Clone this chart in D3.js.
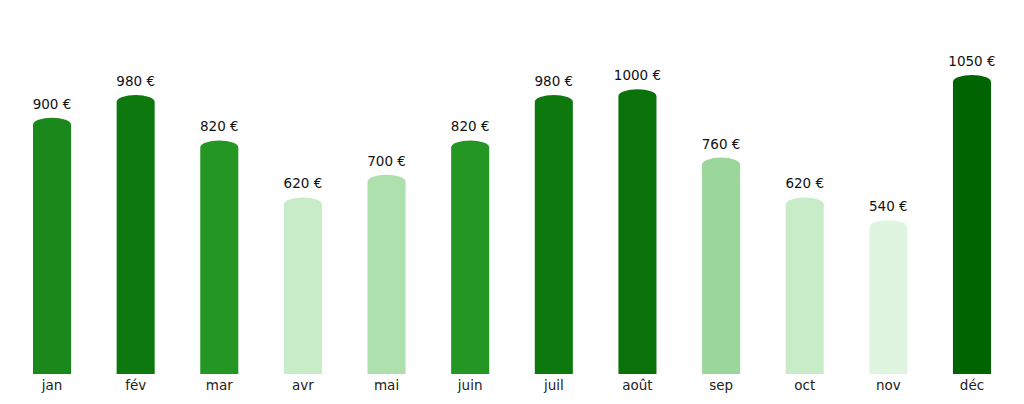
<!DOCTYPE html>
<html><head><meta charset="utf-8">
<script src="https://cdn.jsdelivr.net/npm/d3@7"></script>
<style>body{margin:0;background:#fff}svg{display:block}text{font-family:"DejaVu Sans",sans-serif}</style>
</head><body><svg id="c" width="1024" height="404"></svg>
<script>
const months = ["jan","fév","mar","avr","mai","juin","juil","août","sep","oct","nov","déc"];
const values = [900,980,820,620,700,820,980,1000,760,620,540,1050];
const colorStops = [540,620,700,760,820,900,980,1000,1050];
const colorRange = ["#dff5df","#c8ecc8","#aee0ae","#9bd69b","#239623","#1a881a","#0d780d","#097309","#006400"];

const svg = d3.select("#c");
const base = 374;
const x = d3.scaleBand().domain(months).range([10,1014]).paddingInner(0.545).paddingOuter(0.275);
const y = d3.scaleLinear().domain([0,1050]).range([base,75]);
const color = d3.scaleLinear().domain(colorStops).range(colorRange);
const ry = 7;

const g = svg.selectAll("g.bar").data(months.map((m,i)=>({m,v:values[i]}))).enter().append("g");
g.append("path").attr("fill",d=>color(d.v)).attr("d",d=>{
  const x0=x(d.m), w=x.bandwidth(), yt=y(d.v);
  return `M${x0},${base}V${yt+ry}A${w/2},${ry} 0 0 1 ${x0+w},${yt+ry}V${base}Z`;
});
g.append("text").attr("x",d=>x(d.m)+x.bandwidth()/2).attr("y",d=>y(d.v)-9)
 .attr("text-anchor","middle").attr("font-size",13.5).attr("fill","#111").text(d=>d.v+" €");
const ax = svg.append("g").attr("transform",`translate(0,${base})`).call(d3.axisBottom(x).tickSize(0).tickPadding(6));
ax.select(".domain").remove();
ax.selectAll("text").attr("font-size",13.5).attr("fill","#222").style("font-family","DejaVu Sans");
</script></body></html>
